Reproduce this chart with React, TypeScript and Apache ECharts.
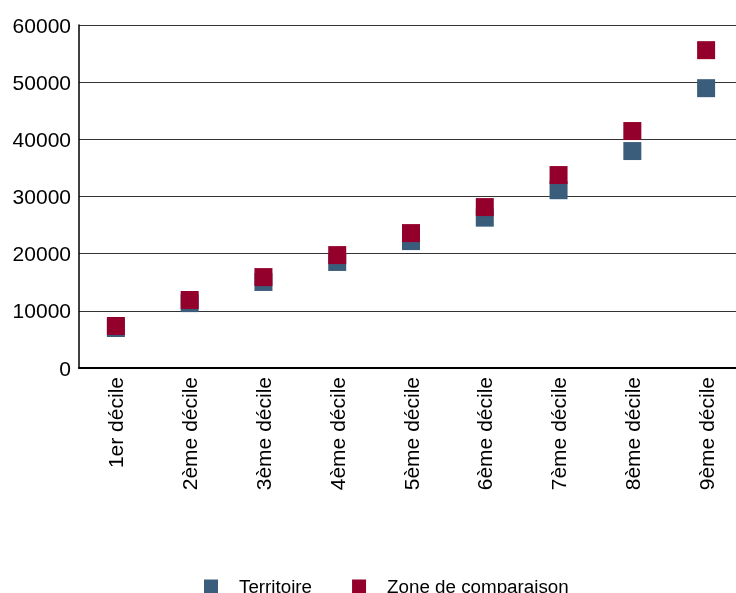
import React, { useEffect, useRef } from "react";
import * as echarts from "echarts";

const categories = [
  "1er décile",
  "2ème décile",
  "3ème décile",
  "4ème décile",
  "5ème décile",
  "6ème décile",
  "7ème décile",
  "8ème décile",
  "9ème décile",
];
const territoire = [7000, 11350, 15050, 18550, 22200, 26300, 31100, 37950, 48950];
const zoneComparaison = [7350, 11900, 15900, 19750, 23600, 28150, 33750, 41450, 55600];
const seriesNames = ["Territoire", "Zone de comparaison"];
const colors = ["#3B5D7C", "#93002B"];

export default function App() {
  const ref = useRef<HTMLDivElement>(null);
  useEffect(() => {
    if (!ref.current) return;
    const chart = echarts.init(ref.current, null, { renderer: "svg" });
    const font = "'Liberation Sans', Arial, sans-serif";
    chart.setOption({
      animation: false,
      textStyle: { fontFamily: font },
      grid: { left: 79, top: 25, right: 0, bottom: 225, containLabel: false },
      legend: {
        left: 204,
        top: 577,
        padding: 0,
        itemWidth: 14,
        itemHeight: 14,
        itemGap: 40,
        icon: "rect",
        data: seriesNames,
        textStyle: { fontSize: 18.8, color: "#000", fontFamily: font, padding: [0, 0, 0, 16] },
      },
      xAxis: {
        type: "category",
        data: categories,
        axisLine: { lineStyle: { color: "#000", width: 2 } },
        axisTick: { show: false },
        axisLabel: {
          rotate: 90,
          interval: 0,
          margin: 9,
          fontSize: 21,
          color: "#000",
          fontFamily: font,
        },
        splitLine: { show: false },
      },
      yAxis: {
        type: "value",
        min: 0,
        max: 60000,
        interval: 10000,
        axisLine: { show: true, lineStyle: { color: "#000", width: 1.5 } },
        axisTick: { show: false },
        axisLabel: {
          fontSize: 21,
          color: "#000",
          margin: 8,
          fontFamily: font,
          formatter: (v: number) => String(v),
        },
        splitLine: { lineStyle: { color: "#333", width: 1 } },
      },
      series: [
        {
          name: seriesNames[0],
          type: "scatter",
          data: territoire,
          symbol: "rect",
          symbolSize: 18,
          itemStyle: { color: colors[0], opacity: 1 },
        },
        {
          name: seriesNames[1],
          type: "scatter",
          data: zoneComparaison,
          symbol: "rect",
          symbolSize: 18,
          itemStyle: { color: colors[1], opacity: 1 },
        },
      ],
    });
    return () => chart.dispose();
  }, []);
  return (
    <div style={{ position: "fixed", left: 0, top: 0, width: 736, height: 593, overflow: "hidden" }}>
      <div ref={ref} style={{ width: 743, height: 593 }} />
    </div>
  );
}
